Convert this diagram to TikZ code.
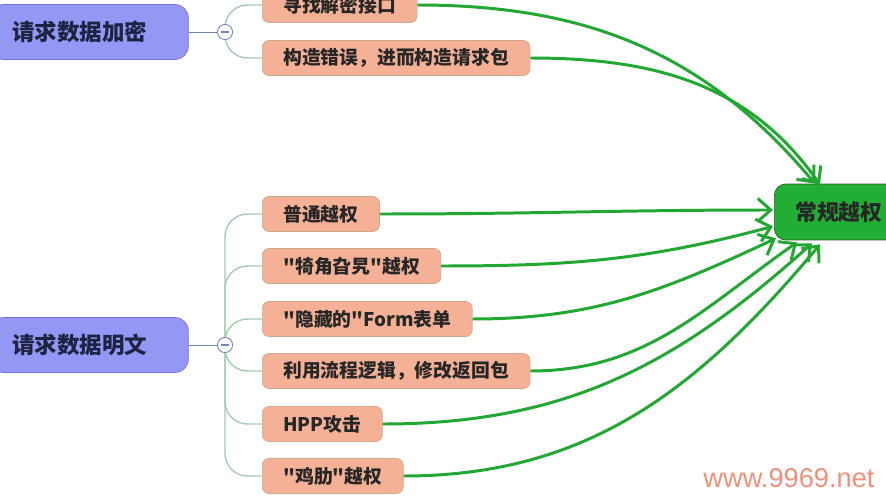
\documentclass[tikz,border=0pt]{standalone}
\usepackage{fontspec}
\setmainfont{Noto Sans CJK SC}[Ligatures=TeXOff]
\newfontfamily\markfont{Liberation Sans}
\usetikzlibrary{arrows.meta,calc}
\definecolor{topicblue}{HTML}{9497F4}
\definecolor{topicedge}{HTML}{6F73D6}
\definecolor{topictext}{HTML}{1F2240}
\definecolor{subfill}{HTML}{F4B196}
\definecolor{subedge}{HTML}{CFA88E}
\definecolor{goalgreen}{HTML}{22AE35}
\definecolor{goaledge}{HTML}{2F5A2F}
\definecolor{linkgreen}{HTML}{23A733}
\definecolor{branchline}{HTML}{A3CDB0}
\definecolor{knobedge}{HTML}{7085B8}
\definecolor{markred}{HTML}{F0907A}

\begin{document}
\begin{tikzpicture}[x=0.02cm, y=0.02cm,
topic/.style={rectangle, draw=topicedge, fill=topicblue, rounded corners=1.4ex,
  minimum height=1.1cm, text width=3.08cm, inner xsep=0.44cm, align=left,
  text=topictext, font=\fontsize{12.8}{14}\selectfont\bfseries, anchor=west},
sub/.style={rectangle, draw=subedge, fill=subfill, rounded corners=.7ex,
  minimum height=0.7cm, inner xsep=0.42cm, text=black!85,
  font=\fontsize{10.7}{12}\selectfont\bfseries, anchor=west},
goal/.style={rectangle, draw=goaledge, fill=goalgreen, rounded corners=1.2ex,
  minimum height=1.12cm, inner xsep=0.42cm, text=black!85,
  font=\fontsize{12.4}{14}\selectfont\bfseries, anchor=west},
knob/.style={circle, draw=knobedge, fill=white, thin, minimum size=0.3cm, inner sep=0pt},
stem/.style={draw=knobedge, thin},
branch/.style={draw=branchline, thick, rounded corners=0.45cm},
link/.style={draw=linkgreen, line width=1.7pt, -{Straight Barb[length=2.6mm,width=4.6mm]}},
    ]
  \useasboundingbox (0,0) rectangle (886,-500);

  \node[topic] (enc) at (-10,-32) {请求数据加密};
  \node[topic] (plain) at (-10,-345) {请求数据明文};

  \node[sub] (find) at (262,-5) {寻找解密接口};
  \node[sub] (forge) at (262,-58) {构造错误，进而构造请求包};

  \node[sub] (normal) at (262,-214) {普通越权};
  \node[sub] (corner) at (262,-266) {"犄角旮旯"越权};
  \node[sub] (hidden) at (262,-319) {"隐藏的"Form表单};
  \node[sub] (flow) at (262,-371) {利用流程逻辑，修改返回包};
  \node[sub] (hpp) at (262,-424) {HPP攻击};
  \node[sub] (rib) at (262,-476) {"鸡肋"越权};

  \node[goal] (goal) at (774,-212) {常规越权};

  \node[knob] (k1) at (225,-32) {};
  \node[knob] (k2) at (225,-345) {};

  % mind map branches
  \draw[stem] (enc.east) -- (k1.west);
  \draw[stem] (plain.east) -- (k2.west);
  \foreach \s in {find,forge}
    \draw[branch] (k1.center) |- (\s.west);
  \foreach \s in {normal,corner,hidden,flow,hpp,rib}
    \draw[branch] (k2.center) |- (\s.west);
  \node[knob] at (k1) {};
  \node[knob] at (k2) {};
  \draw[knobedge, thick] ([xshift=-2pt]k1.center) -- ([xshift=2pt]k1.center);
  \draw[knobedge, thick] ([xshift=-2pt]k2.center) -- ([xshift=2pt]k2.center);

  % arrows to the goal
  \draw[link] (find.east) to[out=0, in=130] ($(goal.north west)+(41,0)$);
  \draw[link] (forge.east) to[out=0, in=125] ($(goal.north west)+(46,-1)$);
  \draw[link] (normal.east) to[out=0, in=180] ($(goal.west)+(-1,2)$);
  \draw[link] (corner.east) to[out=0, in=195] ($(goal.south west)+(-1,14)$);
  \draw[link] (hidden.east) to[out=0, in=205] ($(goal.south west)+(2,2)$);
  \draw[link] (flow.east) to[out=0, in=215] ($(goal.south west)+(23,-2)$);
  \draw[link] (hpp.east) to[out=0, in=222] ($(goal.south west)+(38,-3)$);
  \draw[link] (rib.east) to[out=0, in=230] ($(goal.south west)+(46,-4)$);

  \node[text=markred, font=\markfont\fontsize{15.5}{17}\selectfont] (mark) at (789,-478) {www.9969.net};
\end{tikzpicture}
\end{document}
